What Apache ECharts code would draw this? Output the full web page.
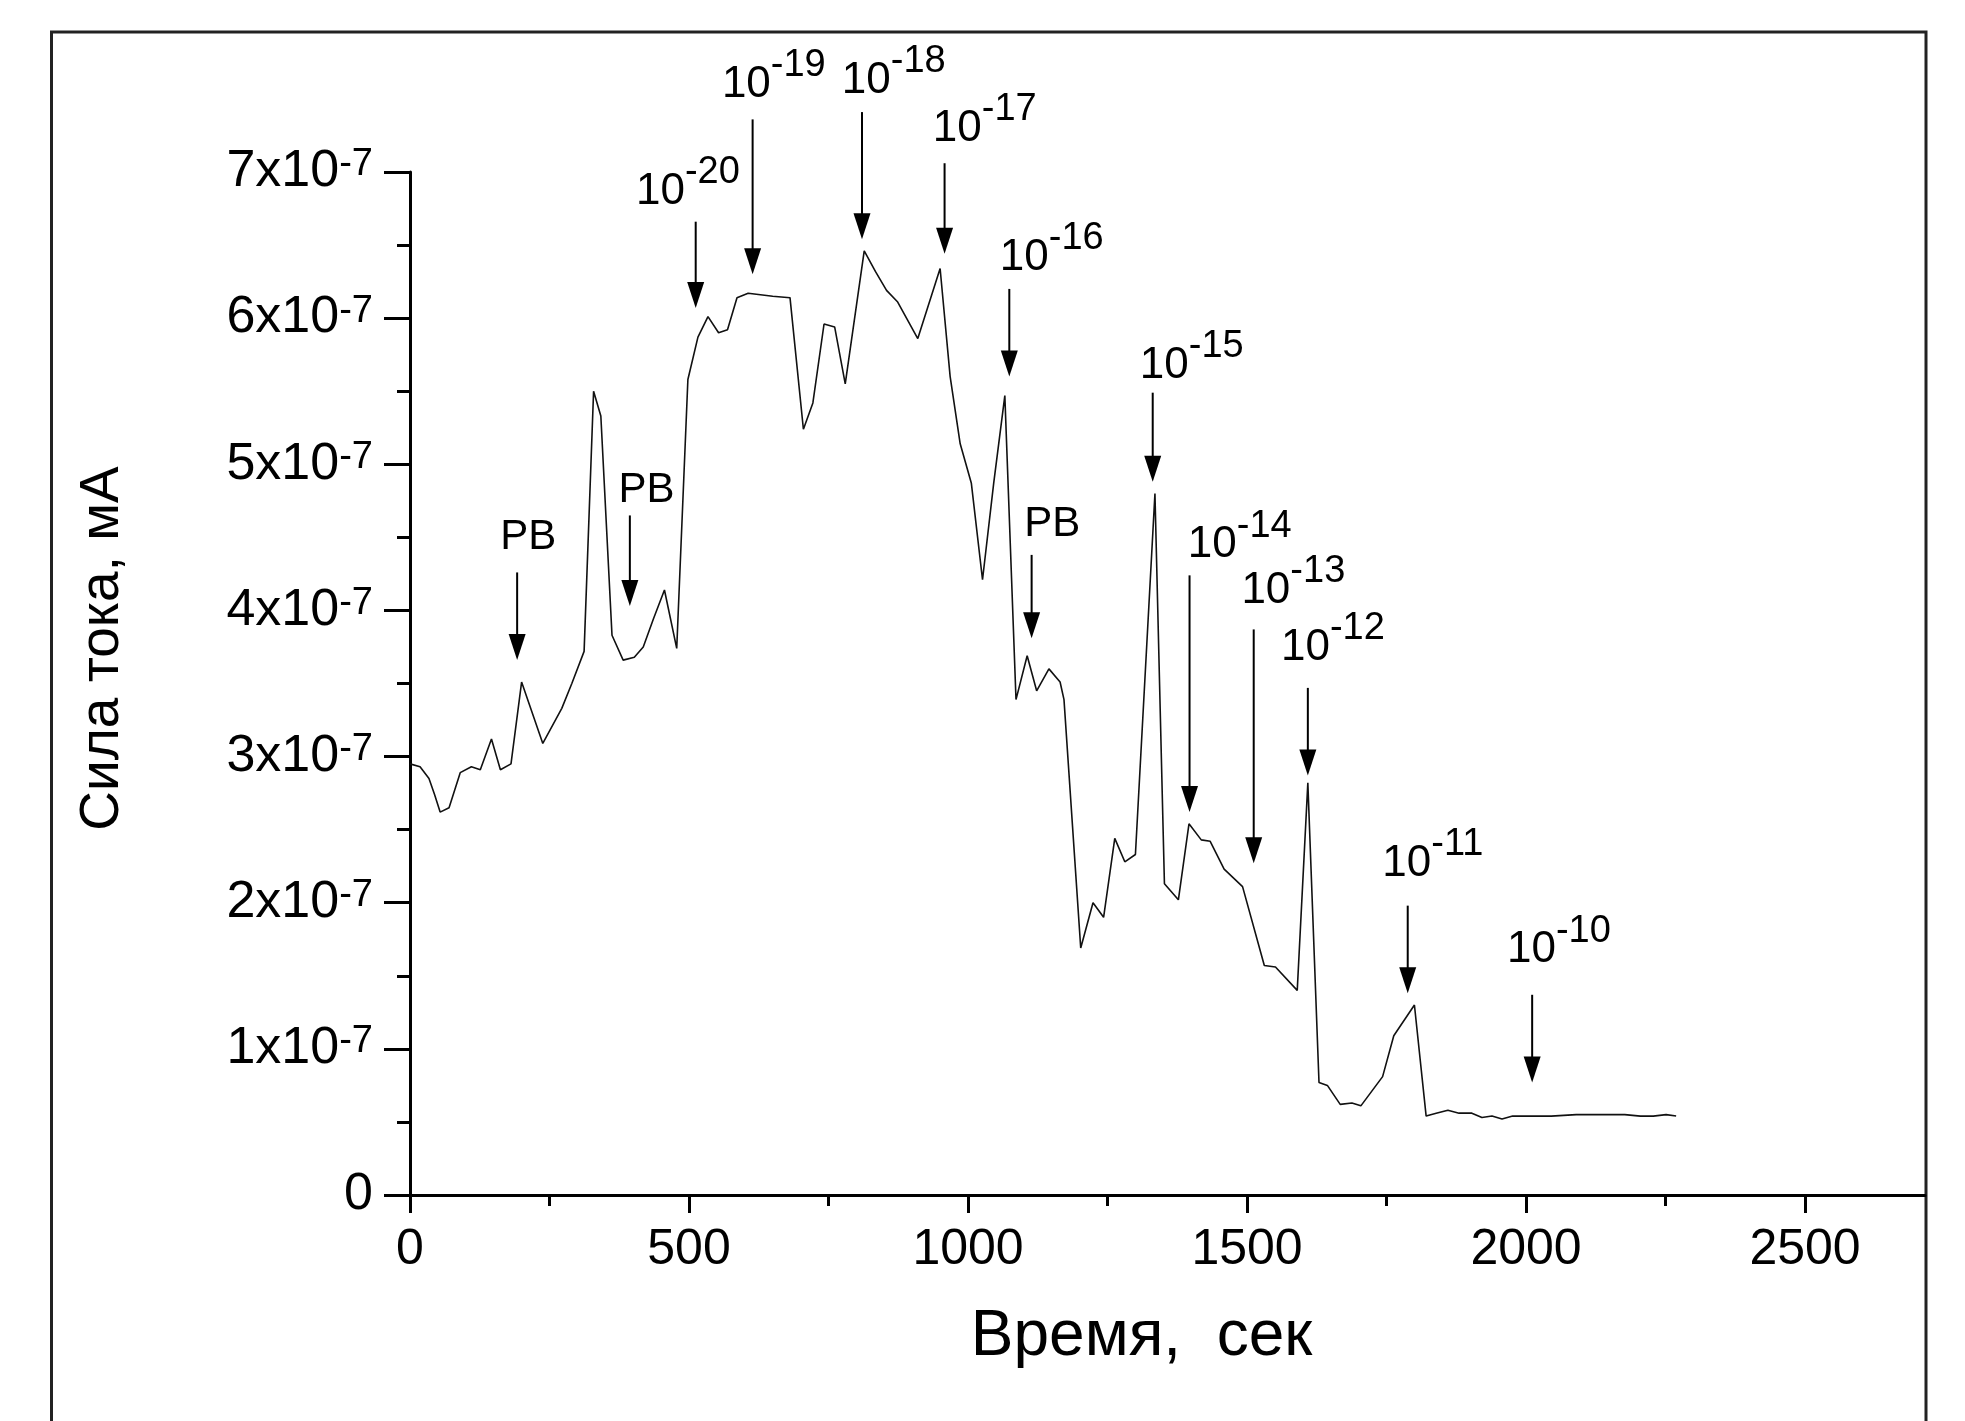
<!DOCTYPE html>
<html><head><meta charset="utf-8">
<script src="https://cdn.jsdelivr.net/npm/echarts@6/dist/echarts.min.js"></script>
<style>html,body{margin:0;padding:0;background:#fff}#chart{width:1965px;height:1421px}</style>
</head><body><div id="chart"></div>
<script>
// time, s
const timeSec = [0,18,34,44,54,70,90,110,126,146,162,181,200,238,272,290,312,329,342,362,382,402,418,436,456,478,498,516,534,553,569,586,606,650,681,705,722,742,761,780,814,834,854,874,910,950,968,986,1006,1026,1046,1066,1086,1106,1123,1145,1165,1172,1202,1224,1243,1263,1281,1300,1335,1352,1377,1396,1418,1434,1459,1492,1531,1551,1590,1609,1629,1644,1667,1688,1704,1743,1763,1800,1821,1839,1860,1880,1903,1921,1939,1957,1976,1998,2045,2090,2136,2177,2205,2228,2251,2269];
// current, in units of 1x10^-7 mA
const currentE7 = [2.95,2.93,2.85,2.74,2.62,2.65,2.89,2.93,2.91,3.12,2.91,2.95,3.51,3.09,3.33,3.50,3.72,5.50,5.33,3.83,3.66,3.68,3.75,3.94,4.14,3.74,5.58,5.87,6.01,5.90,5.92,6.14,6.17,6.15,6.14,5.24,5.42,5.96,5.94,5.55,6.46,6.32,6.19,6.11,5.86,6.34,5.60,5.14,4.87,4.21,4.87,5.47,3.39,3.69,3.45,3.60,3.51,3.39,1.69,2.00,1.90,2.44,2.28,2.33,4.80,2.13,2.02,2.54,2.43,2.42,2.23,2.11,1.57,1.56,1.40,2.82,0.77,0.75,0.62,0.63,0.61,0.81,1.09,1.30,0.54,0.56,0.58,0.56,0.56,0.53,0.54,0.52,0.54,0.54,0.54,0.55,0.55,0.55,0.54,0.54,0.55,0.54];

const xTickValues = [0,500,1000,1500,2000,2500];
const xTickLabels = ['0','500','1000','1500','2000','2500'];
const xMinorTickValues = [250,750,1250,1750,2250];
const yTickMantissa = ['0','1x10','2x10','3x10','4x10','5x10','6x10','7x10'];
const yTickExponent = '-7';

// annotations (arrows + labels)
const annotBase = ['PB','PB','10','10','10','10','10','PB','10','10','10','10','10','10'];
const annotExp  = ['','','-20','-19','-18','-17','-16','','-15','-14','-13','-12','-11','-10'];
const arrowTime = [192,394,512,614,810,958,1074,1114,1331,1397,1512,1609,1788,2011];
const arrowTopE7 = [4.26,4.65,6.66,7.36,7.41,7.06,6.20,4.38,5.49,4.24,3.87,3.47,1.98,1.37];
const arrowTipE7 = [3.66,4.03,6.07,6.30,6.54,6.44,5.60,3.81,4.88,2.62,2.27,2.87,1.38,0.77];
const labelTime = [212,424,498,652,867,1030,1150,1151,1401,1487,1583,1654,1833,2059];
const labelE7 = [4.50,4.82,6.92,7.65,7.68,7.35,6.47,4.59,5.73,4.50,4.19,3.80,2.32,1.73];

const FONT = 'Liberation Sans, Arial, Helvetica, sans-serif';
const chart = echarts.init(document.getElementById('chart'));

const option = {
  backgroundColor: '#fff',
  animation: false,
  textStyle: {fontFamily: FONT, color: '#000'},
  graphic: [{
    type: 'rect', silent: true, z: -10,
    shape: {x: 51.5, y: 32, width: 1874.5, height: 1500},
    style: {fill: 'none', stroke: '#222', lineWidth: 3}
  }],
  grid: {left: 410, right: 40, top: 172, bottom: 226, outerBoundsMode: 'none'},
  xAxis: [{
    type: 'value', min: 0, max: 2715, interval: 500,
    axisLine: {show: true, onZero: false, lineStyle: {color: '#000', width: 3}},
    axisTick: {show: true, length: 18, customValues: xTickValues, lineStyle: {color: '#000', width: 3}},
    axisLabel: {
      customValues: xTickValues, fontSize: 50, color: '#000', margin: 30, fontFamily: FONT,
      formatter: function (v) { const i = xTickValues.indexOf(v); return i >= 0 ? xTickLabels[i] : ''; }
    },
    splitLine: {show: false},
    name: 'Время,  сек', nameLocation: 'middle', nameGap: 110,
    nameTextStyle: {fontSize: 64, color: '#000', fontFamily: FONT, padding: [0, 52, 0, 0]}
  }, {
    type: 'value', min: 0, max: 2715, position: 'bottom', offset: 0,
    axisLine: {show: false}, axisLabel: {show: false}, splitLine: {show: false},
    axisTick: {show: true, length: 11, customValues: xMinorTickValues, lineStyle: {color: '#000', width: 3}}
  }],
  yAxis: {
    type: 'value', min: 0, max: 7, interval: 1,
    axisLine: {show: true, lineStyle: {color: '#000', width: 3}},
    axisTick: {show: true, length: 26, lineStyle: {color: '#000', width: 3}},
    minorTick: {show: true, splitNumber: 2, length: 13, lineStyle: {color: '#000', width: 3}},
    splitLine: {show: false}, minorSplitLine: {show: false},
    axisLabel: {
      margin: 37, color: '#000', fontFamily: FONT,
      formatter: function (v) {
        const i = Math.round(v);
        return i === 0 ? '{b|' + yTickMantissa[i] + '}' : '{b|' + yTickMantissa[i] + '}{s|' + yTickExponent + '}';
      },
      rich: {
        b: {fontSize: 52, fontFamily: FONT, color: '#000', verticalAlign: 'bottom'},
        s: {fontSize: 38, fontFamily: FONT, color: '#000', verticalAlign: 'bottom', padding: [0, 0, 14, 0]}
      }
    },
    name: 'Сила тока, мА', nameLocation: 'middle', nameRotate: 90, nameGap: 280,
    nameTextStyle: {fontSize: 55, color: '#000', fontFamily: FONT, padding: [0, 0, 0, 70]}
  },
  series: [{
    type: 'line', xAxisIndex: 0,
    data: timeSec.map((t, i) => [t, currentE7[i]]),
    showSymbol: false, symbol: 'none', silent: true,
    lineStyle: {color: '#111', width: 1.6}
  }, {
    type: 'custom', xAxisIndex: 0, clip: false, silent: true,
    data: arrowTime.map((t, i) => [t, arrowTopE7[i], arrowTipE7[i]]),
    encode: {x: 0, y: [1, 2]},
    renderItem: function (params, api) {
      const top = api.coord([api.value(0), api.value(1)]);
      const tip = api.coord([api.value(0), api.value(2)]);
      const hw = 8.5, hh = 26;
      return {type: 'group', children: [
        {type: 'line', shape: {x1: top[0], y1: top[1], x2: tip[0], y2: tip[1] - hh + 2}, style: {stroke: '#000', lineWidth: 2}},
        {type: 'polygon', shape: {points: [[tip[0] - hw, tip[1] - hh], [tip[0] + hw, tip[1] - hh], [tip[0], tip[1]]]}, style: {fill: '#000'}}
      ]};
    }
  }, {
    type: 'scatter', xAxisIndex: 0, clip: false, silent: true,
    symbolSize: 0, itemStyle: {color: '#000', opacity: 1},
    data: labelTime.map((t, i) => ({value: [t, labelE7[i]], base: annotBase[i], exp: annotExp[i]})),
    label: {
      show: true, position: 'inside', color: '#000', textBorderWidth: 0, opacity: 1,
      formatter: function (p) {
        return p.data.exp ? '{b|' + p.data.base + '}{s|' + p.data.exp + '}' : '{p|' + p.data.base + '}';
      },
      rich: {
        b: {fontSize: 44, fontFamily: FONT, color: '#000', verticalAlign: 'bottom'},
        s: {fontSize: 38, fontFamily: FONT, color: '#000', verticalAlign: 'bottom', padding: [0, 0, 22, 0]},
        p: {fontSize: 42, fontFamily: FONT, color: '#000'}
      }
    }
  }]
};
chart.setOption(option);
</script>
</body></html>
